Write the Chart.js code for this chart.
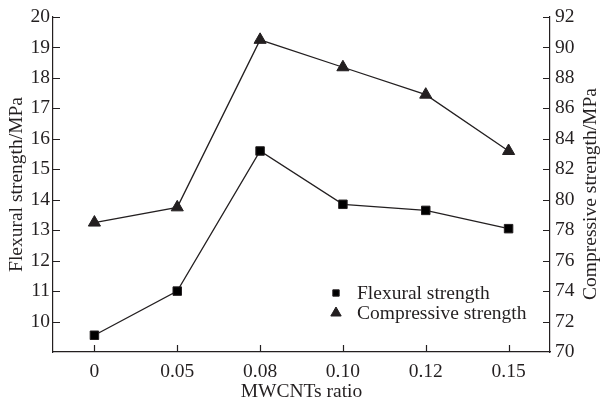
<!DOCTYPE html>
<html>
<head>
<meta charset="utf-8">
<script src="https://cdn.jsdelivr.net/npm/chart.js@4"></script>
<style>
  html, body { margin: 0; padding: 0; background: #fff; }
  #wrap { width: 603px; height: 402px; }
</style>
</head>
<body>
<div id="wrap"><canvas id="myChart" width="603" height="402"></canvas></div>
<script>
var ratios = ['0', '0.05', '0.08', '0.10', '0.12', '0.15'];
var flexural = [9.55, 11.0, 15.6, 13.85, 13.65, 13.05];
var compressive = [78.5, 79.5, 90.5, 88.7, 86.9, 83.2];
var flexTicks = [9, 20, 1];      // min, max, step
var compTicks = [70, 92, 2];

var ink = '#231f20';
var serif = 'Liberation Serif, Times New Roman, serif';
var fnt = { family: serif, size: 19.5 };

// ticks point into the plot, the right title reads bottom to top, legend inside
var extras = {
  id: 'extras',
  afterDraw: function(chart) {
    var c = chart.ctx, a = chart.chartArea;
    var x = chart.scales.x, yl = chart.scales.y, yr = chart.scales.y1;
    c.save();
    c.strokeStyle = ink;
    c.lineWidth = 1.2;
    c.beginPath();
    x.ticks.forEach(function(t, i) {
      var px = Math.round(x.getPixelForTick(i)) + 0.5;
      c.moveTo(px, a.bottom); c.lineTo(px, a.bottom - 7);
    });
    yl.ticks.forEach(function(t) {
      if (t.value === yl.min) return;
      var py = Math.round(yl.getPixelForValue(t.value)) + 0.5;
      c.moveTo(a.left, py); c.lineTo(a.left + 7, py);
    });
    yr.ticks.forEach(function(t) {
      if (t.value === yr.min) return;
      var py = Math.round(yr.getPixelForValue(t.value)) + 0.5;
      c.moveTo(a.right, py); c.lineTo(a.right - 7, py);
    });
    c.stroke();

    c.fillStyle = ink;
    c.font = '19.5px ' + serif;
    c.save();
    c.translate(591, 194);
    c.rotate(-Math.PI / 2);
    c.textAlign = 'center';
    c.textBaseline = 'middle';
    c.fillText('Compressive strength/MPa', 0, 0);
    c.restore();

    var items = [[0, 299], [1, 319]];
    items.forEach(function(it) {
      var ds = chart.data.datasets[it[0]];
      c.fillStyle = ds.pointBackgroundColor;
      c.strokeStyle = ds.pointBorderColor;
      c.lineWidth = 1;
      Chart.helpers.drawPoint(c, {
        pointStyle: ds.pointStyle,
        radius: it[0] === 0 ? 4.5 : 6,
        borderWidth: 1,
        rotation: 0
      }, 336, it[1] - 6);
      c.fillStyle = ink;
      c.textAlign = 'left';
      c.textBaseline = 'alphabetic';
      c.fillText(ds.label, 357, it[1]);
    });
    c.restore();
  }
};

var ctx = document.getElementById('myChart').getContext('2d');
var myChart = new Chart(ctx, {
  type: 'line',
  data: {
    labels: ratios,
    datasets: [{
      label: 'Flexural strength',
      data: flexural,
      yAxisID: 'y',
      borderColor: ink,
      borderWidth: 1.3,
      pointStyle: 'rect',
      pointRadius: 6,
      pointBackgroundColor: '#000',
      pointBorderColor: ink,
      pointBorderWidth: 1,
      tension: 0
    }, {
      label: 'Compressive strength',
      data: compressive,
      yAxisID: 'y1',
      borderColor: ink,
      borderWidth: 1.3,
      pointStyle: 'triangle',
      pointRadius: 7,
      pointBackgroundColor: ink,
      pointBorderColor: ink,
      pointBorderWidth: 1,
      tension: 0
    }]
  },
  options: {
    responsive: false,
    animation: false,
    layout: { padding: { top: 17, left: 0, right: 0, bottom: 0 } },
    plugins: { legend: { display: false }, tooltip: { enabled: false } },
    scales: {
      x: {
        offset: true,
        grid: { display: false, drawTicks: false },
        border: { display: true, color: ink, width: 1.2 },
        ticks: { color: ink, font: fnt, padding: 8, maxRotation: 0 },
        title: { display: true, text: 'MWCNTs ratio', color: ink, font: { family: serif, size: 19.5, lineHeight: 1 }, padding: 0 },
        afterFit: function(s) { s.height = 50; }
      },
      y: {
        position: 'left',
        min: flexTicks[0], max: flexTicks[1],
        grid: { display: false, drawTicks: false },
        border: { display: true, color: ink, width: 1.2 },
        ticks: {
          stepSize: flexTicks[2], color: ink, font: fnt, padding: 3,
          callback: function(v) { return v === flexTicks[0] ? '' : v; }
        },
        title: { display: true, text: 'Flexural strength/MPa', color: ink, font: { family: serif, size: 19.5, lineHeight: 1 }, padding: 7 },
        afterFit: function(s) { s.width = 53; }
      },
      y1: {
        position: 'right',
        min: compTicks[0], max: compTicks[1],
        grid: { display: false, drawTicks: false },
        border: { display: true, color: ink, width: 1.2 },
        ticks: { stepSize: compTicks[2], color: ink, font: fnt, padding: 5 },
        afterFit: function(s) { s.width = 53; }
      }
    }
  },
  plugins: [extras]
});
</script>
</body>
</html>
